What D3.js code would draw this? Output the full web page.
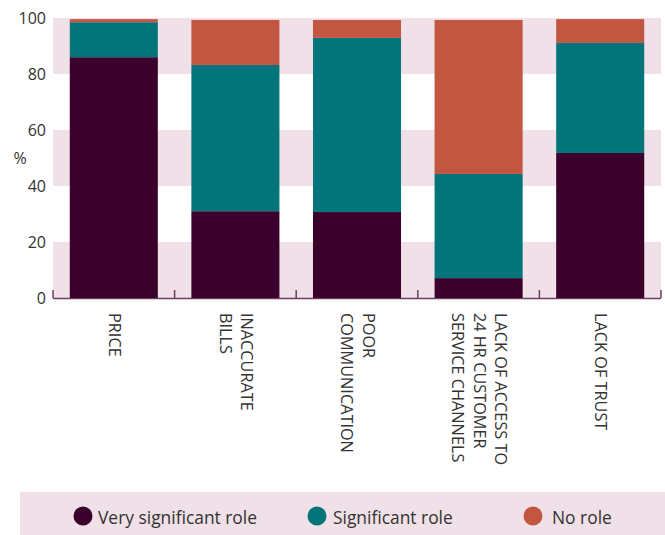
<!DOCTYPE html>
<html>
<head>
<meta charset="utf-8">
<script src="https://cdn.jsdelivr.net/npm/d3@7"></script>
<style>
  html, body { margin: 0; padding: 0; background: #ffffff; }
  svg { display: block; font-family: "Open Sans", "Noto Sans", sans-serif; }
</style>
</head>
<body>
<svg id="chart" width="665" height="535"></svg>
<script>
// ---- Data ----
const categories = ["PRICE", "INACCURATE BILLS", "POOR COMMUNICATION", "LACK OF ACCESS TO 24 HR CUSTOMER SERVICE CHANNELS", "LACK OF TRUST"];
const categoryLines = [
  ["PRICE"],
  ["INACCURATE", "BILLS"],
  ["POOR", "COMMUNICATION"],
  ["LACK OF ACCESS TO", "24 HR CUSTOMER", "SERVICE CHANNELS"],
  ["LACK OF TRUST"]
];
const seriesNames = ["Very significant role", "Significant role", "No role"];
const verySignificant = [86, 31, 30.7, 7.1, 51.8];
const significant = [12.5, 52.2, 62.2, 37.2, 39.3];
const noRole = [1.1, 16.1, 6.4, 55, 8.5];
const yTicks = [0, 20, 40, 60, 80, 100];
const colors = ["#3b002b", "#03747a", "#c35641"];

// ---- Layout ----
const svg = d3.select("#chart");
const plot = { left: 53, right: 661, top: 18, bottom: 298 };

const x = d3.scaleBand()
  .domain(categories)
  .range([plot.left, plot.right])
  .paddingInner(0.276)
  .paddingOuter(0.138);

const y = d3.scaleLinear().domain([0, 100]).range([plot.bottom, plot.top]);

// background bands
const bandPairs = [[80, 100], [40, 60], [0, 20]];
svg.append("g").selectAll("rect").data(bandPairs).join("rect")
  .attr("x", plot.left)
  .attr("width", plot.right - plot.left)
  .attr("y", d => y(d[1]))
  .attr("height", d => y(d[0]) - y(d[1]))
  .attr("fill", "#f0e0e7");

// stacked data
const rows = categories.map((c, i) => ({
  cat: c,
  "Very significant role": verySignificant[i],
  "Significant role": significant[i],
  "No role": noRole[i]
}));
const stacked = d3.stack().keys(seriesNames)(rows);

// x axis baseline with upward ticks at band boundaries
const boundaries = categories.map(c => x(c) - x.step() * x.paddingInner() / 2);
boundaries[0] = plot.left;
boundaries.push(plot.right);
const xAxisG = svg.append("g");
xAxisG.append("line")
  .attr("x1", plot.left).attr("x2", plot.right)
  .attr("y1", plot.bottom + 0.5).attr("y2", plot.bottom + 0.5)
  .attr("stroke", "#6e3e60").attr("stroke-width", 1.5);
xAxisG.selectAll("line.tick").data(boundaries).join("line")
  .attr("class", "tick")
  .attr("x1", d => d).attr("x2", d => d)
  .attr("y1", plot.bottom - 8).attr("y2", plot.bottom)
  .attr("stroke", "#6e3e60").attr("stroke-width", 1.5);

svg.append("g").selectAll("g").data(stacked).join("g")
  .attr("fill", (d, i) => colors[i])
  .selectAll("rect").data(d => d).join("rect")
  .attr("x", d => x(d.data.cat))
  .attr("width", x.bandwidth())
  .attr("y", d => y(d[1]))
  .attr("height", d => y(d[0]) - y(d[1]));

// y axis labels
const yAxis = d3.axisLeft(y).tickValues(yTicks).tickSize(0).tickPadding(0);
const yG = svg.append("g").attr("transform", `translate(46,0)`).call(yAxis);
yG.select(".domain").remove();
yG.selectAll("text")
  .attr("font-family", "'Open Sans', sans-serif")
  .attr("font-size", 16)
  .attr("fill", "#333333")
  .attr("dy", "0.35em");

svg.append("text")
  .attr("x", 20).attr("y", 158)
  .attr("text-anchor", "middle")
  .attr("dominant-baseline", "central")
  .attr("font-size", 16)
  .attr("fill", "#333333")
  .text("%");

// x category labels (rotated)
const lh = 21.5;
const xl = svg.append("g");
categories.forEach((c, i) => {
  const lines = categoryLines[i];
  const cx = x(c) + x.bandwidth() / 2 + 1;
  lines.forEach((ln, j) => {
    const px = cx + (lines.length - 1) / 2 * lh - j * lh;
    xl.append("text")
      .attr("transform", `translate(${px},313) rotate(90)`)
      .attr("text-anchor", "start")
      .attr("dominant-baseline", "central")
      .attr("font-size", 16.3)
      .attr("fill", "#333333")
      .text(ln);
  });
});

// legend
svg.append("rect")
  .attr("x", 20).attr("y", 492)
  .attr("width", 645).attr("height", 43)
  .attr("fill", "#f0e0e7");
const legendPos = [{ cx: 83, tx: 98 }, { cx: 317, tx: 333 }, { cx: 533, tx: 552 }];
const lg = svg.append("g").selectAll("g").data(seriesNames).join("g");
lg.append("circle")
  .attr("cx", (d, i) => legendPos[i].cx)
  .attr("cy", 516)
  .attr("r", 9.5)
  .attr("fill", (d, i) => colors[i]);
lg.append("text")
  .attr("x", (d, i) => legendPos[i].tx)
  .attr("y", 517)
  .attr("dominant-baseline", "central")
  .attr("font-size", 17.4)
  .attr("fill", "#333333")
  .text(d => d);
</script>
</body>
</html>
